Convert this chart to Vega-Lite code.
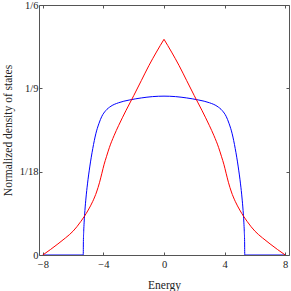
{
  "$schema": "https://vega.github.io/schema/vega-lite/v6.json",
  "width": 250,
  "height": 250,
  "autosize": "none",
  "padding": {"left": 39, "top": 5, "right": 2, "bottom": 36},
  "config": {
    "view": {"stroke": "#555", "strokeWidth": 1},
    "font": "Liberation Serif",
    "axis": {
      "grid": false,
      "domain": false,
      "tickColor": "#555",
      "tickSize": -3,
      "labelColor": "#222",
      "titleColor": "#222",
      "labelFont": "Liberation Serif",
      "titleFont": "Liberation Serif",
      "labelFontSize": 10.5,
      "titleFontSize": 11.5,
      "titleFontWeight": "normal"
    }
  },
  "datasets": {
    "red": [
      {"s": "L", "E": -8, "v": 0}, {"s": "L", "E": -7.5, "v": 0.0036}, {"s": "L", "E": -7, "v": 0.0074}, {"s": "L", "E": -6.5, "v": 0.0114},
      {"s": "L", "E": -6, "v": 0.0159}, {"s": "L", "E": -5.5, "v": 0.0222}, {"s": "L", "E": -5, "v": 0.03}, {"s": "L", "E": -4.7, "v": 0.0358},
      {"s": "L", "E": -4.45, "v": 0.042}, {"s": "L", "E": -4.25, "v": 0.0485}, {"s": "L", "E": -4.1, "v": 0.0545}, {"s": "L", "E": -3.95, "v": 0.0605},
      {"s": "L", "E": -3.8, "v": 0.0655}, {"s": "L", "E": -3.6, "v": 0.0718}, {"s": "L", "E": -3.3, "v": 0.0795}, {"s": "L", "E": -3, "v": 0.0862},
      {"s": "L", "E": -2.5, "v": 0.0965}, {"s": "L", "E": -2, "v": 0.1062}, {"s": "L", "E": -1.5, "v": 0.1162}, {"s": "L", "E": -1, "v": 0.1262},
      {"s": "L", "E": -0.5, "v": 0.1353}, {"s": "L", "E": 0, "v": 0.1438},
      {"s": "R", "E": 0, "v": 0.1438},
      {"s": "R", "E": 0.5, "v": 0.1353}, {"s": "R", "E": 1, "v": 0.1262}, {"s": "R", "E": 1.5, "v": 0.1162}, {"s": "R", "E": 2, "v": 0.1062},
      {"s": "R", "E": 2.5, "v": 0.0965}, {"s": "R", "E": 3, "v": 0.0862}, {"s": "R", "E": 3.3, "v": 0.0795}, {"s": "R", "E": 3.6, "v": 0.0718},
      {"s": "R", "E": 3.8, "v": 0.0655}, {"s": "R", "E": 3.95, "v": 0.0605}, {"s": "R", "E": 4.1, "v": 0.0545}, {"s": "R", "E": 4.25, "v": 0.0485},
      {"s": "R", "E": 4.45, "v": 0.042}, {"s": "R", "E": 4.7, "v": 0.0358}, {"s": "R", "E": 5, "v": 0.03}, {"s": "R", "E": 5.5, "v": 0.0222},
      {"s": "R", "E": 6, "v": 0.0159}, {"s": "R", "E": 6.5, "v": 0.0114}, {"s": "R", "E": 7, "v": 0.0074}, {"s": "R", "E": 7.5, "v": 0.0036}, {"s": "R", "E": 8, "v": 0}
    ],
    "blue": [
      {"E": -8, "v": 0}, {"E": -5.33, "v": 0}, {"E": -5.32, "v": 0.009}, {"E": -5.3, "v": 0.0155},
      {"E": -5.27, "v": 0.0219}, {"E": -5.22, "v": 0.0297}, {"E": -5.15, "v": 0.038}, {"E": -5.05, "v": 0.0474},
      {"E": -4.9, "v": 0.0587}, {"E": -4.7, "v": 0.071}, {"E": -4.5, "v": 0.0808}, {"E": -4.3, "v": 0.0875},
      {"E": -4.1, "v": 0.0925}, {"E": -3.85, "v": 0.0962}, {"E": -3.5, "v": 0.0992}, {"E": -3, "v": 0.1015},
      {"E": -2.3, "v": 0.1033}, {"E": -1.5, "v": 0.1047}, {"E": -0.75, "v": 0.1056}, {"E": 0, "v": 0.1059},
      {"E": 0.75, "v": 0.1056}, {"E": 1.5, "v": 0.1047}, {"E": 2.3, "v": 0.1033}, {"E": 3, "v": 0.1015},
      {"E": 3.5, "v": 0.0992}, {"E": 3.85, "v": 0.0962}, {"E": 4.1, "v": 0.0925}, {"E": 4.3, "v": 0.0875},
      {"E": 4.5, "v": 0.0808}, {"E": 4.7, "v": 0.071}, {"E": 4.9, "v": 0.0587}, {"E": 5.05, "v": 0.0474},
      {"E": 5.15, "v": 0.038}, {"E": 5.22, "v": 0.0297}, {"E": 5.27, "v": 0.0219}, {"E": 5.3, "v": 0.0155},
      {"E": 5.32, "v": 0.009}, {"E": 5.33, "v": 0}, {"E": 8, "v": 0}
    ]
  },
  "layer": [
    {
      "data": {"name": "blue"},
      "mark": {"type": "line", "color": "#0000ff", "strokeWidth": 1, "clip": true, "interpolate": "monotone"},
      "encoding": {
        "x": {"field": "E", "type": "quantitative", "scale": {"domain": [-8.25, 8.25], "nice": false},
          "axis": {"orient": "top", "labels": false, "title": null, "values": [-8, -4, 0, 4, 8]}},
        "y": {"field": "v", "type": "quantitative", "scale": {"domain": [0, 0.16666667], "nice": false},
          "axis": {"orient": "right", "labels": false, "title": null, "values": [0, 0.05555556, 0.11111111, 0.16666667]}}
      }
    },
    {
      "data": {"name": "red"},
      "mark": {"type": "line", "color": "#ff0000", "strokeWidth": 1, "clip": true, "interpolate": "monotone"},
      "encoding": {
        "detail": {"field": "s", "type": "nominal"},
        "x": {"field": "E", "type": "quantitative", "scale": {"domain": [-8.25, 8.25], "nice": false},
          "axis": {"orient": "bottom", "title": "Energy", "values": [-8, -4, 0, 4, 8], "labelPadding": 7, "titlePadding": 10,
            "labelExpr": "datum.value < 0 ? '−' + abs(datum.value) : '' + datum.value"}},
        "y": {"field": "v", "type": "quantitative", "scale": {"domain": [0, 0.16666667], "nice": false},
          "axis": {"orient": "left", "title": "Normalized density of states", "values": [0, 0.05555556, 0.11111111, 0.16666667],
            "labelPadding": 4, "titlePadding": 6,
            "labelExpr": "datum.value < 0.01 ? '0' : datum.value < 0.07 ? '1/18' : datum.value < 0.12 ? '1/9' : '1/6'"}}
      }
    }
  ],
  "resolve": {"axis": {"x": "independent", "y": "independent"}}
}
